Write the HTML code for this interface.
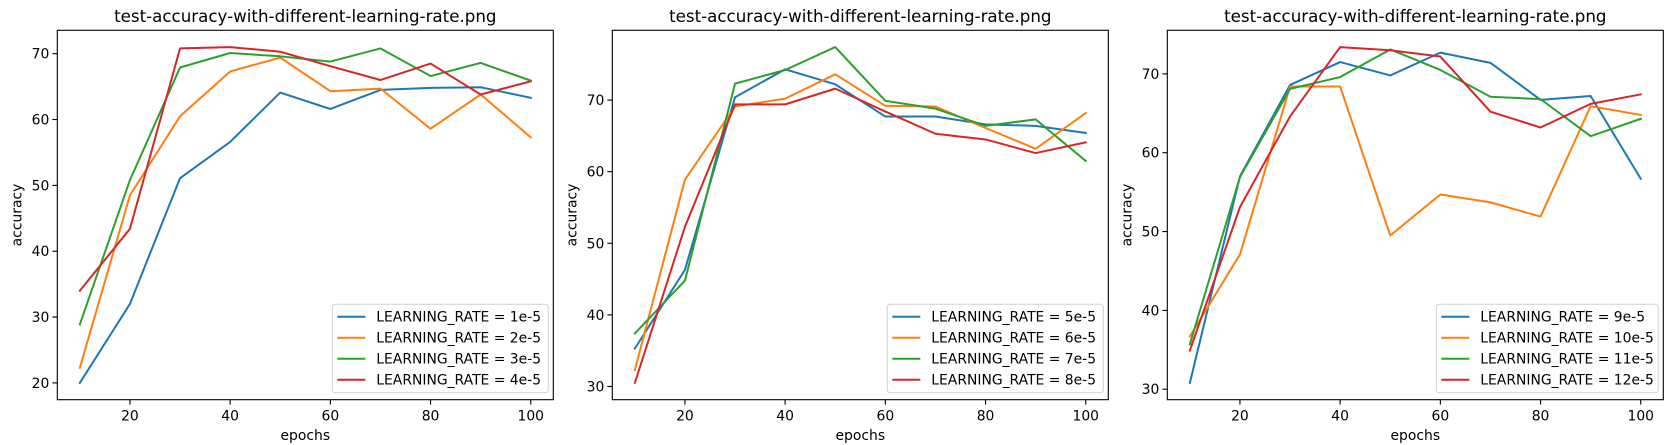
<!DOCTYPE html>
<html><head><meta charset="utf-8">
<style>
html,body{margin:0;padding:0;background:#fff;}
svg{display:block;font-family:"DejaVu Sans","Liberation Sans",sans-serif;}
</style></head>
<body>
<svg id="fig" width="1674" height="445" viewBox="0 0 1674 445" xmlns="http://www.w3.org/2000/svg"></svg>
<script>
const epochs = [10,20,30,40,50,60,70,80,90,100];
const xTicks = [20,40,60,80,100];
const colors = ['#1f77b4','#ff7f0e','#2ca02c','#d62728'];

const p1Labels = ['LEARNING_RATE = 1e-5','LEARNING_RATE = 2e-5','LEARNING_RATE = 3e-5','LEARNING_RATE = 4e-5'];
const p1s1 = [20.0,32.0,51.1,56.6,64.1,61.6,64.5,64.8,64.9,63.3];
const p1s2 = [22.3,48.5,60.5,67.3,69.4,64.3,64.7,58.6,63.8,57.3];
const p1s3 = [28.9,50.8,67.9,70.1,69.6,68.8,70.8,66.6,68.6,65.9];
const p1s4 = [34.0,43.4,70.8,71.0,70.3,68.1,66.0,68.5,63.8,65.8];
const p1YTicks = [20,30,40,50,60,70];

const p2Labels = ['LEARNING_RATE = 5e-5','LEARNING_RATE = 6e-5','LEARNING_RATE = 7e-5','LEARNING_RATE = 8e-5'];
const p2s1 = [35.3,46.3,70.4,74.3,72.2,67.7,67.7,66.6,66.4,65.4];
const p2s2 = [32.3,58.9,69.1,70.2,73.6,69.2,69.1,66.1,63.2,68.2];
const p2s3 = [37.4,44.8,72.3,74.2,77.4,69.9,68.8,66.4,67.3,61.5];
const p2s4 = [30.5,52.3,69.4,69.4,71.6,68.4,65.3,64.5,62.6,64.1];
const p2YTicks = [30,40,50,60,70];

const p3Labels = ['LEARNING_RATE = 9e-5','LEARNING_RATE = 10e-5','LEARNING_RATE = 11e-5','LEARNING_RATE = 12e-5'];
const p3s1 = [30.8,57.0,68.6,71.5,69.8,72.7,71.4,66.7,67.2,56.7];
const p3s2 = [36.7,47.1,68.4,68.4,49.5,54.7,53.7,51.9,65.9,64.8];
const p3s3 = [35.7,56.9,68.1,69.6,73.1,70.5,67.1,66.8,62.1,64.3];
const p3s4 = [34.9,53.1,64.6,73.4,73.0,72.2,65.2,63.2,66.2,67.4];
const p3YTicks = [30,40,50,60,70];

const TITLE = 'test-accuracy-with-different-learning-rate.png';
const NS = 'http://www.w3.org/2000/svg';
const fig = document.getElementById('fig');
function mk(tag, attrs, parent){
  const e = document.createElementNS(NS, tag);
  for (const k in attrs) e.setAttribute(k, attrs[k]);
  (parent||fig).appendChild(e);
  return e;
}

function panel(idx, left, series, labels, yTicks){
  const top = 30.3, bottom = 399.7, width = 496, right = left + width;
  const g = mk('g', {});
  
  
  const xmin = Math.min(...epochs), xmax = Math.max(...epochs);
  const xm = (xmax - xmin) * 0.05;
  const x = v => left + (v - (xmin - xm)) / ((xmax - xmin) + 2*xm) * width;
  const all = [].concat(...series);
  const ymin = Math.min(...all), ymax = Math.max(...all);
  const ym = (ymax - ymin) * 0.05;
  const y = v => bottom - (v - (ymin - ym)) / ((ymax - ymin) + 2*ym) * (bottom - top);

  // lines
  series.forEach((s, i) => {
    const pts = s.map((v, j) => x(epochs[j]).toFixed(2) + ',' + y(v).toFixed(2)).join(' ');
    const pl = mk('polyline', {points: pts, fill: 'none', stroke: colors[i], 'stroke-width': 2, 'stroke-linejoin': 'round', 'stroke-linecap': 'square'}, g);
    
    
  });

  // frame
  const fr = mk('rect', {x: left, y: top, width: width, height: bottom - top, fill: 'none', stroke: '#000', 'stroke-width': 1.1}, g);
  
  

  // x ticks
  xTicks.forEach(t => {
    const xx = x(t);
    mk('line', {x1: xx, x2: xx, y1: bottom, y2: bottom + 4.9, stroke: '#000', 'stroke-width': 1.1}, g);
    const tx = mk('text', {x: xx, y: bottom + 21, 'text-anchor': 'middle', 'font-size': 13.9, fill: '#000'}, g);
    tx.textContent = t;
    
    
  });
  // y ticks
  yTicks.forEach(t => {
    const yy = y(t);
    mk('line', {x1: left - 4.9, x2: left, y1: yy, y2: yy, stroke: '#000', 'stroke-width': 1.1}, g);
    const tx = mk('text', {x: left - 8, y: yy + 5, 'text-anchor': 'end', 'font-size': 13.9, fill: '#000'}, g);
    tx.textContent = t;
    
    
  });

  const xl = mk('text', {x: left + width/2, y: 440, 'text-anchor': 'middle', 'font-size': 13.9, fill: '#000'}, g);
  xl.textContent = 'epochs';
  
  

  const yl = mk('text', {x: 0, y: 0, 'text-anchor': 'middle', 'font-size': 13.9, fill: '#000', transform: 'translate(' + (left - 36) + ',' + ((top+bottom)/2) + ') rotate(-90)'}, g);
  yl.textContent = 'accuracy';
  
  

  const ti = mk('text', {x: left + width/2, y: 22, 'text-anchor': 'middle', 'font-size': 16.7, fill: '#000'}, g);
  ti.textContent = TITLE;
  
  

  // legend
  const lw = idx === 3 ? 222 : 216;
  const lh = 88.5;
  const lx = right - 5 - lw, ly = bottom - 7 - lh;
  const lg = mk('g', {}, g);
  
  
  mk('rect', {x: lx, y: ly, width: lw, height: lh, rx: 3, fill: 'rgba(255,255,255,0.8)', stroke: '#d0d0d0', 'stroke-width': 1}, lg);
  labels.forEach((lab, i) => {
    const ey = ly + 12.5 + i * 21;
    const en = mk('g', {}, lg);
    
    
    mk('line', {x1: lx + 5, x2: lx + 33, y1: ey, y2: ey, stroke: colors[i], 'stroke-width': 2}, en);
    const t = mk('text', {x: lx + 44, y: ey + 5, 'font-size': 13.9, fill: '#000'}, en);
    t.textContent = lab;
  });
}

panel(1, 57.3, [p1s1,p1s2,p1s3,p1s4], p1Labels, p1YTicks);
panel(2, 612.3, [p2s1,p2s2,p2s3,p2s4], p2Labels, p2YTicks);
panel(3, 1167.3, [p3s1,p3s2,p3s3,p3s4], p3Labels, p3YTicks);
</script>
</body></html>
